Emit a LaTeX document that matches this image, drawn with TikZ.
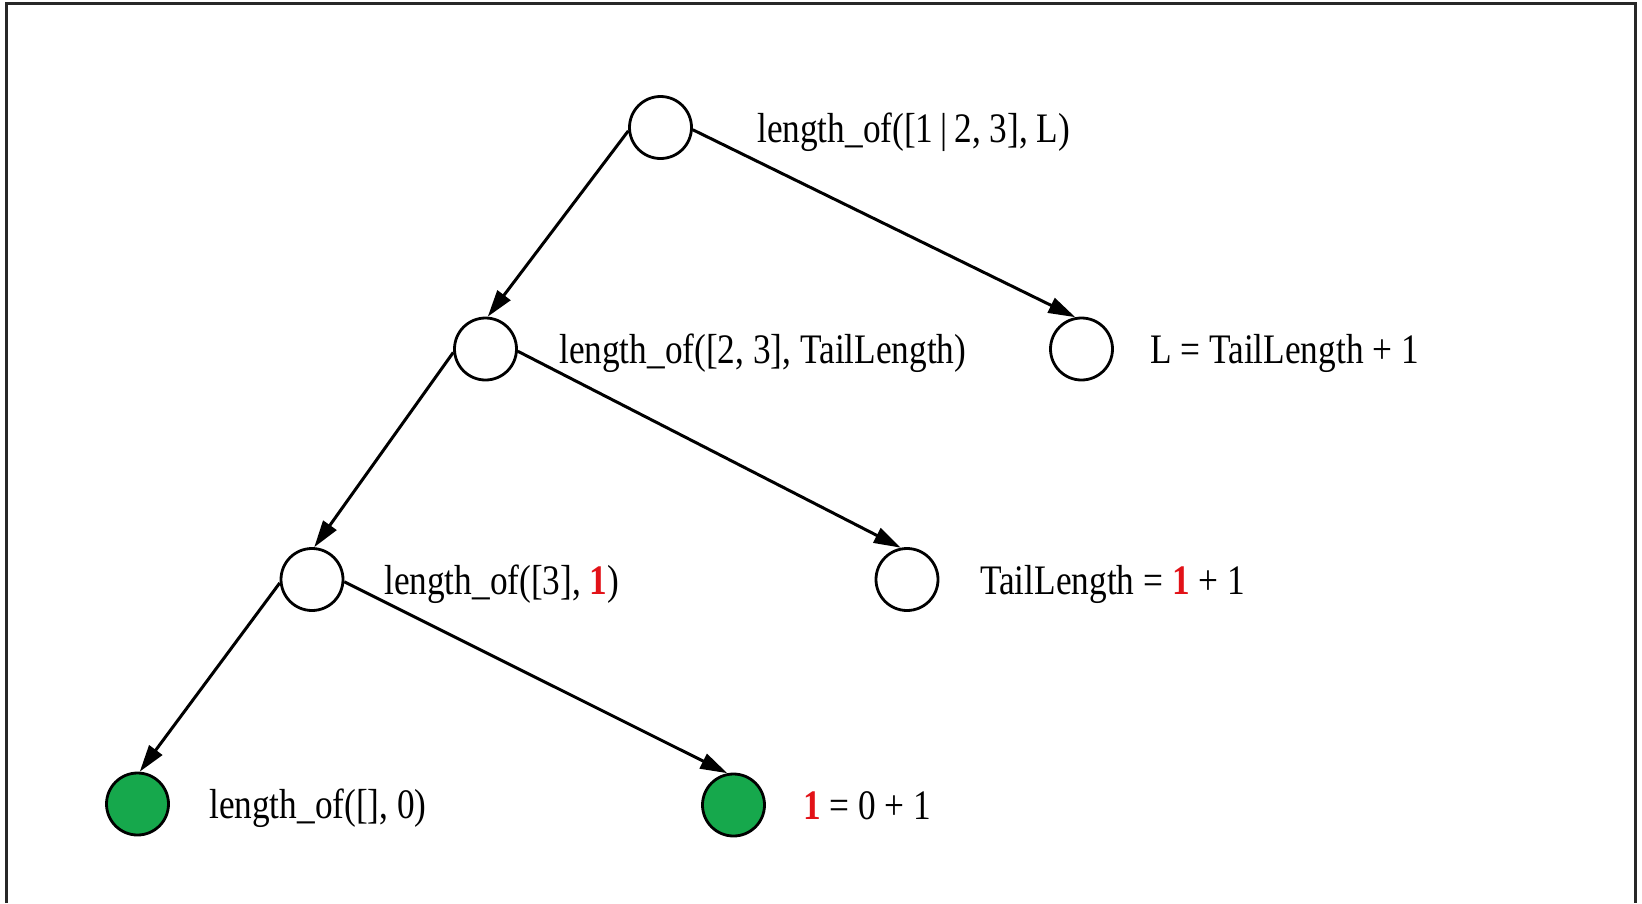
\documentclass[tikz,border=0pt]{standalone}
\usepackage{fontspec}
\setmainfont{Liberation Serif}[FakeStretch=0.84]
\usetikzlibrary{arrows.meta}
\definecolor{leafgreen}{RGB}{22,168,76}
\definecolor{numred}{RGB}{226,18,24}
\definecolor{framegray}{RGB}{40,40,40}
\begin{document}
\begin{tikzpicture}[x=1pt,y=-1pt,
  goal/.style={circle,draw=black,line width=2.8pt,fill=white,minimum size=62pt,inner sep=0pt},
  leaf/.style={goal,fill=leafgreen},
  lbl/.style={anchor=base west,inner sep=0pt,font=\fontsize{42}{48}\selectfont},
  edge/.style={line width=3pt,-{Triangle[length=27pt,width=16pt]}}]
\useasboundingbox (0,0) rectangle (1642,903);
\draw[line width=3pt,framegray] (6,903) -- (6,3) -- (1635,3) -- (1635,903);

\node[goal] (r) at (660.5,127.5) {};
\node[goal] (a) at (485.5,349) {};
\node[goal] (b) at (1081.5,349) {};
\node[goal] (c) at (312,579.5) {};
\node[goal] (d) at (907,579.5) {};
\node[leaf] (e) at (137.5,804) {};
\node[leaf] (f) at (733.5,805) {};

\node[lbl] (lr) at (757,142) {length\_of([1\,|\,2, 3], L)};
\node[lbl] (la) at (559,363.5) {length\_of([2, 3], TailLength)};
\node[lbl] (lb) at (1150,363.5) {L = TailLength + 1};
\node[lbl] (lc) at (384,594) {length\_of([3], \textcolor{numred}{\textbf{1}})};
\node[lbl] (ld) at (980,594) {TailLength = \textcolor{numred}{\textbf{1}} + 1};
\node[lbl] (le) at (209,818.5) {length\_of([], 0)};
\node[lbl] (lf) at (803,819.5) {\textcolor{numred}{\textbf{1}} = 0 + 1};

\draw[edge] (r.186) -- (a.86);
\draw[edge] (r.356) -- (b.101);
\draw[edge] (a.186) -- (c.86);
\draw[edge] (a.356) -- (d.101);
\draw[edge] (c.186) -- (e.86);
\draw[edge] (c.356) -- (f.101);
\end{tikzpicture}
\end{document}
